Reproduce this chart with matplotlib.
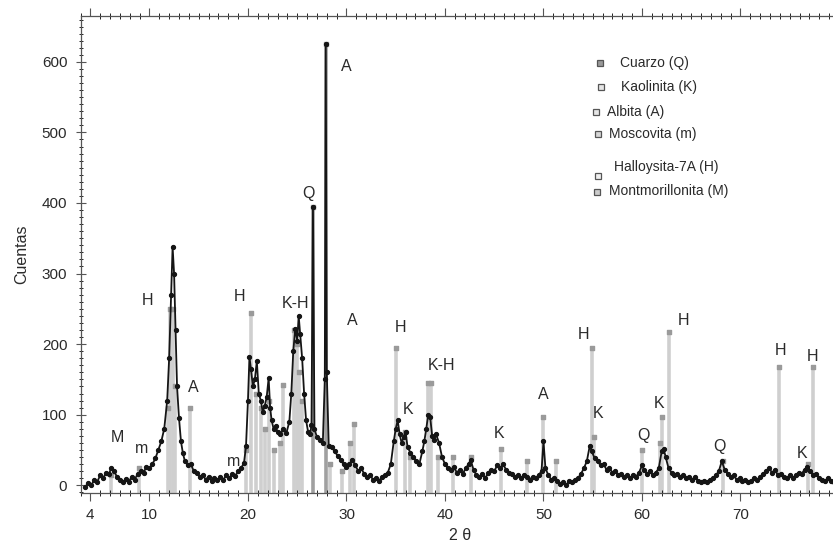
import numpy as np
import matplotlib
matplotlib.use('Agg')
from matplotlib import pyplot as plt

plt.rcParams['font.family'] = ['Liberation Sans', 'DejaVu Sans']

two_theta = [3.5, 3.8, 4.1, 4.4, 4.7, 5.0, 5.3, 5.6, 5.9, 6.1, 6.4, 6.7, 7.0, 7.3, 7.6, 7.9, 8.2, 8.5, 8.8, 9.1,
             9.4, 9.7, 10.0, 10.3, 10.6, 10.9, 11.2, 11.5, 11.8, 12.0, 12.2, 12.35, 12.5, 12.65, 12.8, 13.0, 13.2, 13.4, 13.6, 13.9,
             14.2, 14.5, 14.8, 15.1, 15.4, 15.7, 16.0, 16.3, 16.6, 16.9, 17.2, 17.5, 17.8, 18.1, 18.4, 18.7, 19.0, 19.3, 19.6, 19.8,
             20.0, 20.15, 20.3, 20.5, 20.7, 20.9, 21.1, 21.3, 21.5, 21.7, 21.9, 22.1, 22.25, 22.4, 22.6, 22.8, 23.0, 23.3, 23.6, 23.9,
             24.2, 24.4, 24.6, 24.8, 25.0, 25.15, 25.3, 25.5, 25.7, 25.9, 26.1, 26.3, 26.45, 26.6, 26.75, 27.0, 27.3, 27.6, 27.8, 27.9,
             28.0, 28.2, 28.5, 28.8, 29.1, 29.4, 29.7, 30.0, 30.3, 30.6, 30.9, 31.2, 31.5, 31.8, 32.1, 32.4, 32.7, 33.0, 33.3, 33.6,
             33.9, 34.2, 34.5, 34.8, 35.0, 35.2, 35.4, 35.6, 35.8, 36.0, 36.2, 36.5, 36.8, 37.1, 37.4, 37.7, 37.9, 38.1, 38.3, 38.5,
             38.7, 38.9, 39.1, 39.4, 39.7, 40.0, 40.3, 40.6, 40.9, 41.2, 41.5, 41.8, 42.1, 42.4, 42.6, 42.9, 43.2, 43.5, 43.8, 44.1,
             44.4, 44.7, 45.0, 45.3, 45.6, 45.9, 46.2, 46.5, 46.8, 47.1, 47.4, 47.7, 48.0, 48.3, 48.6, 48.9, 49.2, 49.5, 49.8, 50.0,
             50.2, 50.5, 50.8, 51.1, 51.4, 51.7, 52.0, 52.3, 52.6, 52.9, 53.2, 53.5, 53.8, 54.1, 54.4, 54.7, 54.9, 55.2, 55.5, 55.8,
             56.1, 56.4, 56.7, 57.0, 57.3, 57.6, 57.9, 58.2, 58.5, 58.8, 59.1, 59.4, 59.7, 60.0, 60.2, 60.5, 60.8, 61.1, 61.4, 61.7,
             62.0, 62.2, 62.4, 62.7, 63.0, 63.3, 63.6, 63.9, 64.2, 64.5, 64.8, 65.1, 65.4, 65.7, 66.0, 66.3, 66.6, 66.9, 67.2, 67.5,
             67.8, 68.1, 68.4, 68.7, 69.0, 69.3, 69.6, 69.9, 70.2, 70.5, 70.8, 71.1, 71.4, 71.7, 72.0, 72.3, 72.6, 72.9, 73.2, 73.5,
             73.8, 74.1, 74.4, 74.7, 75.0, 75.3, 75.6, 75.9, 76.2, 76.5, 76.8, 77.1, 77.4, 77.7, 78.0, 78.3, 78.6, 78.9, 79.2, 79.5]
counts = [-2, 3, 0, 8, 5, 14, 10, 18, 16, 24, 20, 12, 8, 4, 9, 5, 12, 8, 16, 20,
          18, 26, 24, 30, 38, 50, 62, 80, 120, 180, 270, 338, 300, 220, 140, 95, 62, 45, 34, 28,
          30, 20, 18, 12, 15, 8, 12, 6, 10, 7, 12, 8, 14, 10, 16, 13, 20, 24, 32, 55,
          120, 182, 165, 140, 150, 176, 130, 120, 104, 112, 125, 152, 110, 92, 80, 84, 76, 72, 80, 74,
          90, 130, 190, 222, 205, 240, 215, 180, 130, 92, 76, 72, 85, 395, 80, 68, 64, 60, 150, 625,
          160, 56, 54, 48, 42, 36, 30, 26, 30, 36, 28, 20, 24, 16, 12, 14, 8, 10, 6, 12,
          14, 18, 30, 62, 80, 92, 72, 60, 68, 76, 54, 46, 40, 34, 30, 48, 62, 80, 100, 96,
          70, 64, 72, 60, 40, 30, 24, 22, 26, 18, 22, 16, 24, 30, 36, 22, 14, 12, 16, 10,
          18, 22, 20, 28, 24, 30, 22, 18, 16, 12, 14, 10, 14, 12, 8, 12, 10, 14, 20, 62,
          24, 14, 8, 10, 6, 2, 4, 0, 6, 4, 8, 10, 16, 24, 34, 56, 48, 38, 34, 28,
          30, 22, 24, 18, 20, 14, 16, 12, 14, 10, 14, 12, 18, 28, 22, 16, 20, 14, 18, 24,
          48, 52, 40, 24, 18, 14, 16, 12, 14, 10, 12, 8, 12, 6, 4, 6, 4, 8, 10, 14,
          20, 34, 22, 16, 12, 14, 8, 10, 6, 8, 4, 6, 10, 8, 12, 16, 20, 24, 18, 22,
          14, 16, 12, 10, 14, 10, 14, 18, 16, 22, 26, 20, 14, 16, 10, 8, 6, 10, 6, 4]

# reference peaks (sticks) of the phases
stick_pos = [6.1, 8.9, 11.9, 12.1, 12.35, 12.6, 14.1, 19.8, 20.3, 20.85, 21.3, 21.7, 22.1, 22.6, 23.3, 23.6,
             24.7, 24.95, 25.2, 25.5, 26.6, 27.9, 28.3, 29.5, 30.4, 30.8, 35.0, 35.9, 36.5, 38.3, 38.6, 39.3,
             40.8, 42.6, 45.7, 48.3, 50.0, 51.3, 54.9, 55.1, 60.0, 61.8, 62.0, 62.7, 68.2, 73.9, 76.9, 77.4]
stick_h = [15, 25, 110, 250, 250, 140, 110, 50, 244, 130, 110, 80, 120, 50, 60, 142,
           220, 200, 160, 120, 395, 625, 30, 20, 60, 87, 194, 75, 40, 145, 145, 40,
           40, 40, 52, 35, 96, 35, 194, 68, 50, 60, 96, 217, 35, 168, 30, 168]

# phase labels on the peaks
peak_labels = ['M', 'm', 'H', 'A', 'm', 'H', 'K-H', 'Q', 'A', 'A', 'H', 'K', 'K-H', 'K',
               'A', 'H', 'K', 'Q', 'K', 'H', 'Q', 'H', 'H', 'K']
label_x = [6.7, 9.2, 9.8, 14.4, 18.5, 19.1, 24.8, 26.1, 30.0, 30.6, 35.5, 36.3, 39.6, 45.5,
           50.0, 54.1, 55.5, 60.1, 61.7, 64.2, 67.9, 74.1, 77.3, 76.3]
label_y = [67, 52, 262, 139, 33, 267, 258, 414, 594, 234, 224, 108, 170, 74,
           128, 213, 102, 71, 116, 234, 55, 191, 183, 45]

legend_names = ['Cuarzo (Q)', 'Kaolinita (K)', 'Albita (A)', 'Moscovita (m)',
                'Halloysita-7A (H)', 'Montmorillonita (M)']
legend_fill = ['#999999', '#e6e6e6', '#e6e6e6', '#d6d6d6', '#f0f0f0', '#cccccc']

W, H = 833, 544
fig = plt.figure(figsize=(W / 100, H / 100), dpi=100)
ax = fig.add_axes([80.5 / W, 51 / H, 758.5 / W, 477 / H])

ymin = -11
for x, h in zip(stick_pos, stick_h):
    c = '#a0a0a0' if h > 350 else '#cfcfcf'
    ax.plot([x, x], [ymin, h], color=c, lw=2.6, solid_capstyle='butt', zorder=1)
ax.scatter(stick_pos, stick_h, s=6, marker='s', color='#9a9a9a', zorder=2)

ax.plot(two_theta, counts, color='#151515', lw=1.3, marker='o', ms=2.8, zorder=3)

for t, x, y in zip(peak_labels, label_x, label_y):
    ax.text(x, y, t, fontsize=11.5, color='#2a2a2a', ha='center', va='center')

# hand-placed legend, like in the original figure
leg_mark_px = [(600, 63), (601, 87), (596, 112), (598, 134), (598, 176), (597, 192)]
leg_text_px = [(620, 63), (621, 87), (607, 112), (609, 134), (614, 167), (609, 191)]
for name, fc, (mx, my), (tx, ty) in zip(legend_names, legend_fill, leg_mark_px, leg_text_px):
    fig.text(tx / W, 1 - ty / H, name, fontsize=10, color='#2a2a2a', va='center', ha='left')
    fig.lines.append(plt.Line2D([mx / W], [1 - my / H], marker='s', ms=4.5, mfc=fc,
                                mec='#555555', mew=0.9, transform=fig.transFigure))

ax.set_xlim(3, 80)
ax.set_ylim(ymin, 665)
ax.set_xticks([4, 10, 20, 30, 40, 50, 60, 70])
ax.set_xticks(np.arange(3, 81, 1), minor=True)
ax.set_yticks([0, 100, 200, 300, 400, 500, 600])
ax.set_yticks(np.arange(-10, 661, 10), minor=True)
ax.tick_params(axis='both', labelsize=11, labelcolor='#2a2a2a', color='#555555')
ax.tick_params(axis='x', which='major', direction='out', length=6, top=True, pad=5)
ax.tick_params(axis='x', which='minor', direction='inout', length=4, top=True)
ax.tick_params(axis='y', which='major', direction='inout', length=7, pad=6)
ax.tick_params(axis='y', which='minor', direction='inout', length=3)
ax.spines['right'].set_visible(False)
for s in ['left', 'bottom', 'top']:
    ax.spines[s].set_color('#555555')
    ax.spines[s].set_linewidth(0.9)

ax.set_xlabel('2 θ', fontsize=11.5, color='#2a2a2a', labelpad=4)
ax.set_ylabel('Cuentas', fontsize=11.5, color='#2a2a2a', labelpad=9)

fig.savefig('out.png', dpi=100)
